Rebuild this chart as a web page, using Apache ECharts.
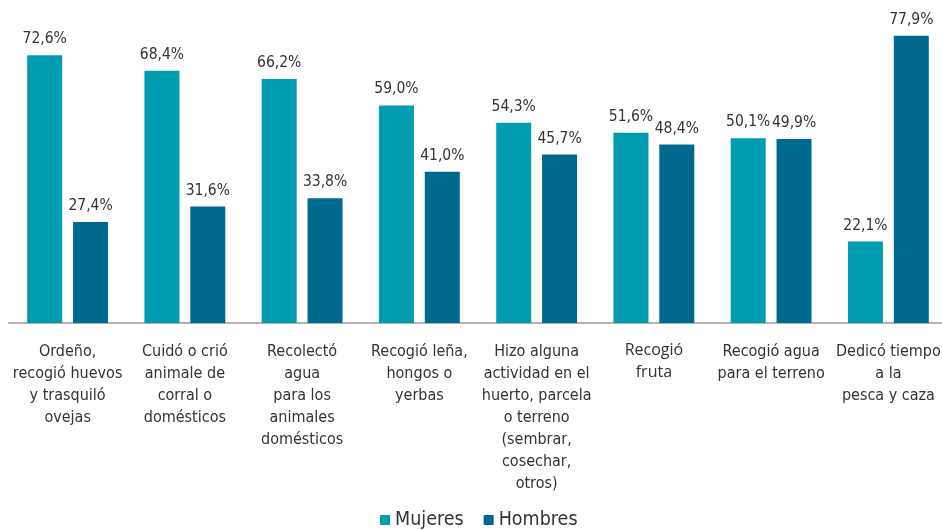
<!DOCTYPE html>
<html><head><meta charset="utf-8">
<script src="https://cdn.jsdelivr.net/npm/echarts@6/dist/echarts.min.js"></script>
<style>html,body{margin:0;padding:0;background:#fff}#c{width:942px;height:530px}</style>
</head><body><div id="c"></div>
<script>
const categories = [
  'Ordeño,\nrecogió huevos\ny trasquiló\novejas',
  'Cuidó o crió\nanimale de\ncorral o\ndomésticos',
  'Recolectó\nagua\npara los\nanimales\ndomésticos',
  'Recogió leña,\nhongos o\nyerbas',
  'Hizo alguna\nactividad en el\nhuerto, parcela\no terreno\n(sembrar,\ncosechar,\notros)',
  'Recogió\nfruta',
  'Recogió agua\npara el terreno',
  'Dedicó tiempo\na la\npesca y caza'
];
const mujeres = [72.6, 68.4, 66.2, 59.0, 54.3, 51.6, 50.1, 22.1];
const hombres = [27.4, 31.6, 33.8, 41.0, 45.7, 48.4, 49.9, 77.9];
const seriesNames = ['Mujeres', 'Hombres'];

const FONT = '"Liberation Sans Narrow", "DejaVu Sans Condensed", sans-serif';
const chart = echarts.init(document.getElementById('c'));
const lbl = {
  show: true, position: 'top', distance: 8,
  fontFamily: FONT, fontSize: 15.5, color: '#333',
  formatter: p => p.value.toFixed(1).replace('.', ',') + '%'
};
chart.setOption({
  animation: false,
  grid: { left: 9, width: 938, top: 28, bottom: 207, outerBoundsMode: 'none', containLabel: false },
  legend: {
    left: 375, bottom: -5, itemWidth: 10, itemHeight: 10, itemGap: 20,
    icon: 'rect',
    textStyle: { fontFamily: FONT, fontSize: 19.5, color: '#333' },
    data: seriesNames
  },
  xAxis: {
    type: 'category', data: categories,
    axisLine: { lineStyle: { color: '#b3b3b3', width: 2 } },
    axisTick: { show: false },
    axisLabel: {
      interval: 0, margin: 18, color: '#333',
      fontFamily: FONT, fontSize: 16, lineHeight: 22,
      formatter: v => v === 'Recogió\nfruta' ? '{f|' + v.replace('\n', '}\n{f|') + '}' : v,
      rich: { f: { fontFamily: '"Open Sans", sans-serif', fontSize: 16, lineHeight: 22, color: '#333', padding: [-4, 0, 0, 0] } }
    }
  },
  yAxis: { type: 'value', min: 0, max: 80, show: false, splitLine: { show: false } },
  series: [
    { name: seriesNames[0], type: 'bar', data: mujeres, barWidth: 35, barGap: '31%',
      itemStyle: { color: '#009CB0' }, label: lbl },
    { name: seriesNames[1], type: 'bar', data: hombres, barWidth: 35, barGap: '31%',
      itemStyle: { color: '#006A8E' }, label: lbl }
  ]
});
</script></body></html>
